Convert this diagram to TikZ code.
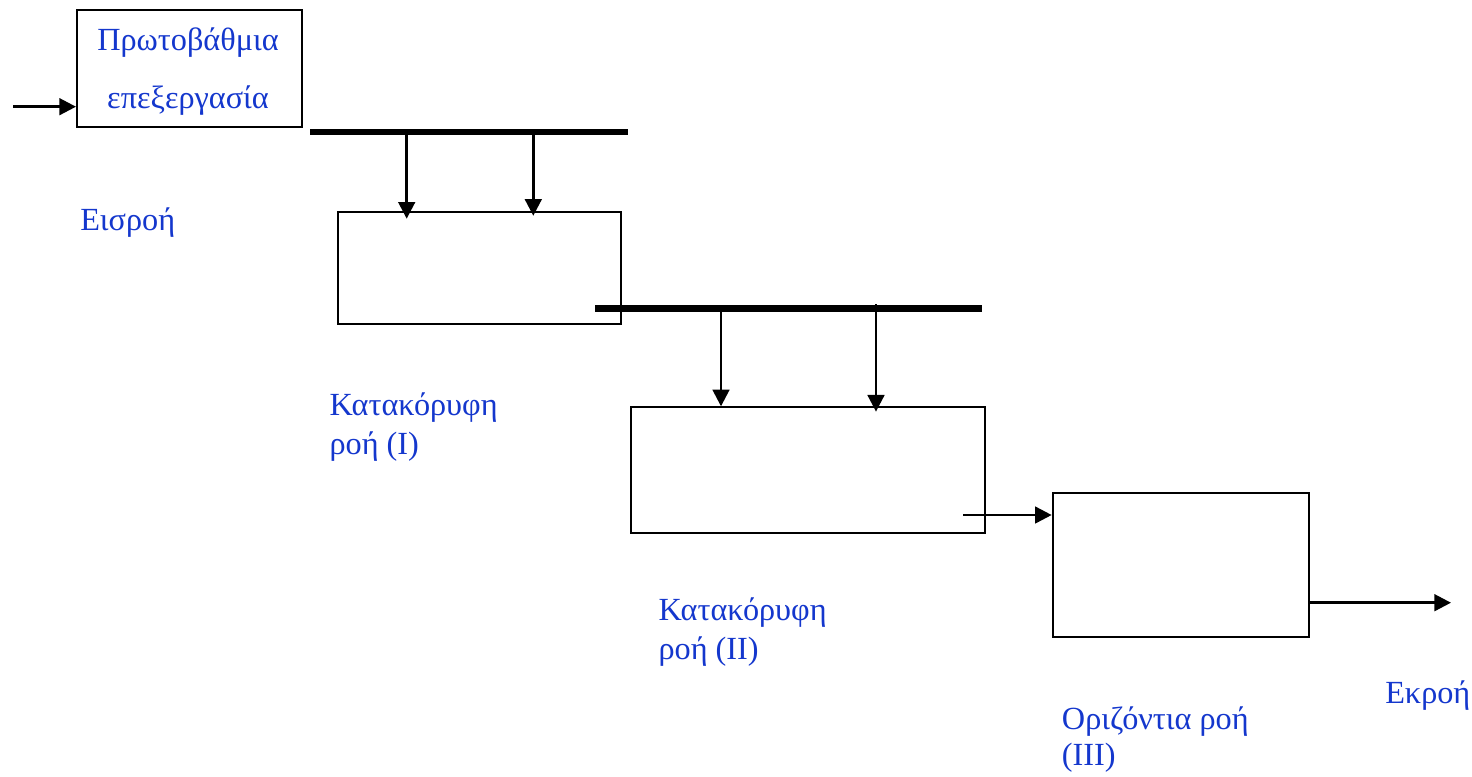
\documentclass[tikz,border=0pt]{standalone}
\usepackage{fontspec}
\setmainfont{Liberation Serif}
\usetikzlibrary{arrows.meta,fit}
\definecolor{labelblue}{RGB}{20,55,205}
\tikzset{
  box/.style={draw=black, line width=1.5pt, inner sep=0pt, fill=none},
  bar/.style={draw=black, line width=4.9pt},
  flow/.style={draw=black, line width=2pt, -{Triangle[length=12.5pt,width=12.5pt]}},
  txt/.style={text=labelblue, inner sep=0pt, font=\fontsize{24.2}{29.25}\selectfont},
  lbl/.style={txt, anchor=base west, align=left},
}
\begin{document}
\begin{tikzpicture}[x=0.75pt,y=-0.75pt]
\useasboundingbox (0,0) rectangle (1472,776);

% process boxes
\node[box, fit={(77,9.5)(301.5,126.5)}] (b1) {};
\node[box, fit={(338.3,211.7)(620.7,324.3)}] (b2) {};
\node[box, fit={(630.7,407.3)(985,532.7)}] (b3) {};
\node[box, fit={(1052.7,492.7)(1309.3,637.3)}] (b4) {};

% text inside the first box
\node[txt, anchor=base] (t1a) at (188,50) {Πρωτοβάθμια};
\node[txt, anchor=base] (t1b) at (188,108) {επεξεργασία};

% distribution bars
\coordinate (bar1w) at (310,132);
\coordinate (bar1e) at (628,132);
\coordinate (bar2w) at (595,308.7);
\coordinate (bar2e) at (982,308.7);
\draw[bar] (bar1w) -- (bar1e);
\draw[bar] (bar2w) -- (bar2e);

% inlet
\coordinate (in) at (13,106.7);
\draw[flow] (in) -- (in -| b1.west);

% feed from bar 1 into box 2
\coordinate (d1) at (406.7,134);
\coordinate (d2) at (533.3,134);
\draw[flow] (d1) -- ([yshift=-6pt]d1 |- b2.north);
\draw[flow] (d2) -- ([yshift=-3.8pt]d2 |- b2.north);

% feed from bar 2 into box 3
\coordinate (d3) at (721,311);
\coordinate (d4) at (876,304);
\draw[flow] (d3) -- (d3 |- b3.north);
\draw[flow] (d4) -- ([yshift=-4pt]d4 |- b3.north);

% box 3 to box 4
\coordinate (h1) at (963,515);
\draw[flow] (h1) -- (h1 -| b4.west);

% outlet
\coordinate (out) at (1451,602.7);
\draw[flow] (out -| b4.east) -- (out);

% labels (base anchor sits on the last line)
\node[lbl] (lin) at (80,230) {Εισροή};
\node[lbl] (l1) at (329.3,454) {Κατακόρυφη\\ροή (I)};
\node[lbl] (l2) at (658.3,659) {Κατακόρυφη\\ροή (II)};
\node[lbl] (l3) at (1061.7,765) {Οριζόντια ροή\\[-2.5pt](III)};
\node[lbl] (lout) at (1385,703.3) {Εκροή};
\end{tikzpicture}
\end{document}
